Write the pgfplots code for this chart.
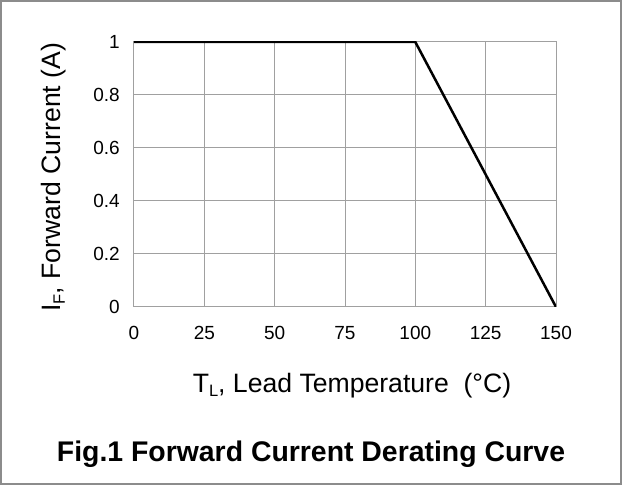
\documentclass[border=0pt]{standalone}
\usepackage{pgfplots}
\pgfplotsset{compat=1.18}
\usepackage{fontspec}
\setmainfont{Liberation Sans}
\definecolor{gridgray}{HTML}{A0A0A0}
\definecolor{framegray}{HTML}{8C8C8C}
\begin{document}
\begin{tikzpicture}
\useasboundingbox (0,0) rectangle (622pt,485pt);
\draw[framegray, line width=2pt] (1pt,1pt) rectangle (621pt,484pt);
\begin{axis}[
  at={(134pt,178pt)}, anchor=south west,
  scale only axis, width=422pt, height=265pt,
  xmin=0, xmax=150, ymin=0, ymax=1,
  xtick={0,25,50,75,100,125,150},
  ytick={0,0.2,0.4,0.6,0.8,1},
  yticklabels={0,0.2,0.4,0.6,0.8,1},
  grid=major,
  major grid style={gridgray, line width=1pt},
  axis line style={gridgray, line width=1pt},
  major tick length=0pt,
  /pgf/number format/assume math mode=true,
  tick label style={font=\fontsize{19}{19}\selectfont, inner sep=0pt},
  xticklabel style={anchor=base, yshift=-33pt},
  yticklabel style={anchor=east, xshift=-14pt},
  xlabel={T\raisebox{-4pt}{\fontsize{16.5}{16.5}\selectfont L}, Lead Temperature\ \ (°C)},
  ylabel={I\raisebox{-4pt}{\fontsize{16.5}{16.5}\selectfont F}, Forward Current (A)},
  label style={font=\fontsize{26.6}{26.6}\selectfont, inner sep=0pt},
  xlabel style={at={(axis description cs:0.5,0)}, anchor=base, xshift=7pt, yshift=-85pt},
  ylabel style={at={(axis description cs:-0.173,0.49)}, anchor=base, rotate=0},
]
\addplot[black, line width=2.5pt, line join=miter] coordinates {(0,1) (100,1) (150,0)};
\end{axis}
\node[anchor=base, font=\fontsize{28.4}{28.4}\selectfont\bfseries, inner sep=0pt] at (311pt,23pt) {Fig.1 Forward Current Derating Curve};
\end{tikzpicture}
\end{document}
